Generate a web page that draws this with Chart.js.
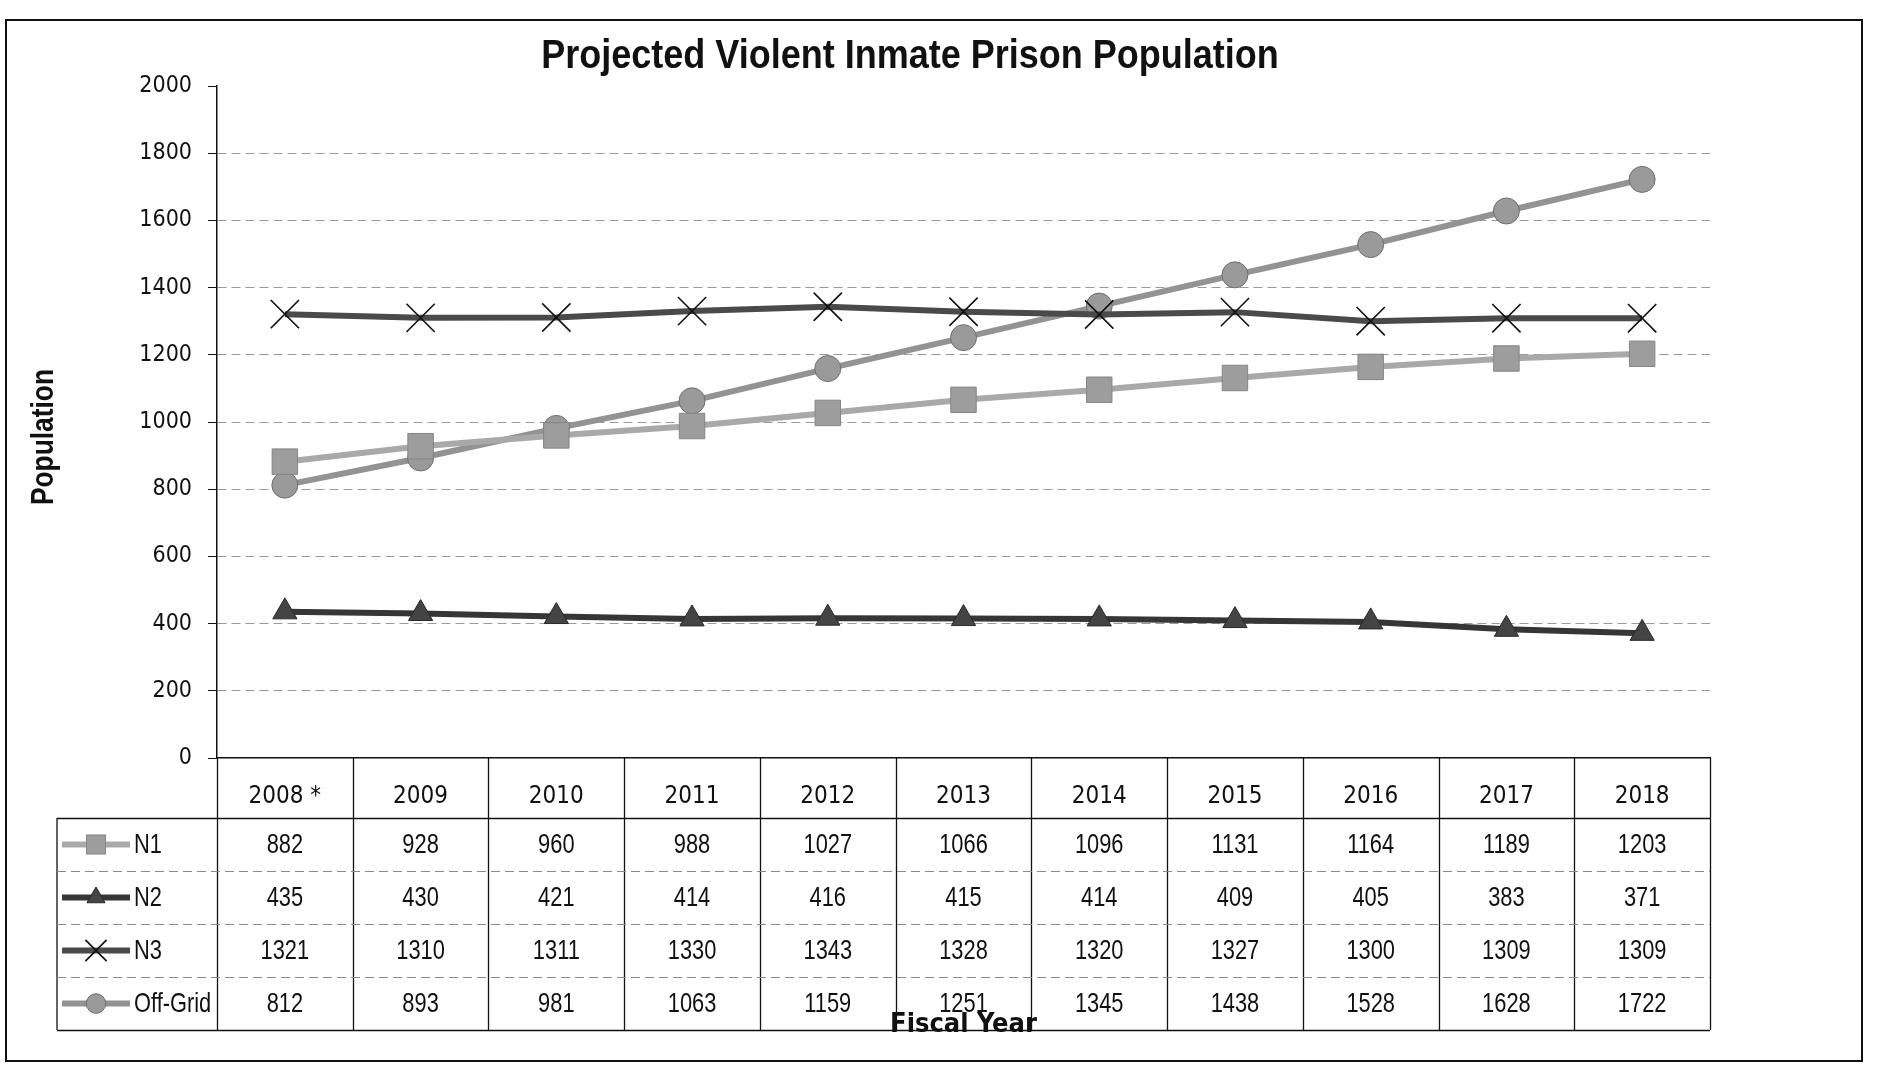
<!DOCTYPE html>
<html>
<head>
<meta charset="utf-8">
<title>Projected Violent Inmate Prison Population</title>
<script src="https://cdn.jsdelivr.net/npm/chart.js@4.4.1/dist/chart.umd.min.js"></script>
<style>
  html, body { margin: 0; padding: 0; background: #fff; }
  #wrap { width: 1877px; height: 1069px; position: relative; }
</style>
</head>
<body>
<div id="wrap"><canvas id="chart"></canvas></div>
<script>
// values
const YEARS = ["2008 *", "2009", "2010", "2011", "2012", "2013", "2014", "2015", "2016", "2017", "2018"];
const N1 = [882, 928, 960, 988, 1027, 1066, 1096, 1131, 1164, 1189, 1203];
const N2 = [435, 430, 421, 414, 416, 415, 414, 409, 405, 383, 371];
const N3 = [1321, 1310, 1311, 1330, 1343, 1328, 1320, 1327, 1300, 1309, 1309];
const OFF_GRID = [812, 893, 981, 1063, 1159, 1251, 1345, 1438, 1528, 1628, 1722];
const SERIES_NAMES = ["N1", "N2", "N3", "Off-Grid"];
const Y_MIN = 0;
const Y_MAX = 2000;
const Y_STEP = 200;

const TITLE = "Projected Violent Inmate Prison Population";
const Y_TITLE = "Population";

const COND = '"DejaVu Sans Condensed", "Liberation Sans Narrow", sans-serif';
const ARIAL = '"Liberation Sans", Arial, sans-serif';
const INK = "#111";

// narrow text: Liberation Sans squeezed horizontally, looks like Arial Narrow
function narrowText(ctx, text, x, y, font, squeeze, align, rotate) {
  ctx.save();
  ctx.font = font;
  ctx.textBaseline = "middle";
  ctx.textAlign = align || "center";
  ctx.translate(x, y);
  if (rotate) ctx.rotate(rotate);
  ctx.scale(squeeze, 1);
  ctx.fillText(text, 0, 0);
  ctx.restore();
}

// scanned frame, titles and the data table under the x axis
const tablePlugin = {
  id: "dataTable",
  beforeDraw(chart) {
    const ctx = chart.ctx;
    ctx.save();
    ctx.fillStyle = "#fff";
    ctx.fillRect(0, 0, chart.width, chart.height);
    ctx.strokeStyle = INK;
    ctx.lineWidth = 2;
    ctx.strokeRect(6, 20, 1856, 1041);
    ctx.restore();
  },
  afterDraw(chart) {
    const ctx = chart.ctx;
    const x = chart.scales.x;
    const area = chart.chartArea;
    const step = x.getPixelForValue(1) - x.getPixelForValue(0);
    const legendLeft = 57;
    const headTop = area.bottom;
    const headBottom = headTop + 60;
    const rowH = 53;
    const tableBottom = headBottom + rowH * chart.data.datasets.length;

    ctx.save();
    ctx.fillStyle = INK;
    narrowText(ctx, TITLE, 910, 57, "bold 40px " + ARIAL, 0.9);
    narrowText(ctx, Y_TITLE, 44, 437, "bold 31px " + ARIAL, 0.85, "center", -Math.PI / 2);

    ctx.strokeStyle = INK;
    ctx.lineWidth = 1.3;
    ctx.beginPath();
    // column separators
    for (let i = 0; i <= YEARS.length; i++) {
      const cx = Math.round(x.getPixelForValue(0) - step / 2 + i * step) + 0.5;
      ctx.moveTo(cx, headTop);
      ctx.lineTo(cx, tableBottom);
    }
    ctx.moveTo(legendLeft, headBottom);
    ctx.lineTo(legendLeft, tableBottom);
    ctx.moveTo(legendLeft, headBottom + 0.5);
    ctx.lineTo(area.right, headBottom + 0.5);
    ctx.moveTo(legendLeft, tableBottom + 0.5);
    ctx.lineTo(area.right, tableBottom + 0.5);
    ctx.stroke();

    // dashed row separators
    ctx.strokeStyle = "#8a8a8a";
    ctx.lineWidth = 1;
    ctx.setLineDash([9, 5]);
    ctx.beginPath();
    for (let r = 1; r < chart.data.datasets.length; r++) {
      const y = headBottom + r * rowH + 0.5;
      ctx.moveTo(legendLeft, y);
      ctx.lineTo(area.right, y);
    }
    ctx.stroke();
    ctx.setLineDash([]);

    // rows: legend sample + values
    chart.data.datasets.forEach((ds, r) => {
      const cy = headBottom + r * rowH + rowH / 2;
      ctx.strokeStyle = ds.borderColor;
      ctx.lineWidth = ds.borderWidth;
      ctx.beginPath();
      ctx.moveTo(62, cy);
      ctx.lineTo(130, cy);
      ctx.stroke();
      ctx.fillStyle = ds.pointBackgroundColor;
      ctx.strokeStyle = ds.pointBorderColor;
      ctx.lineWidth = ds.pointBorderWidth;
      Chart.helpers.drawPoint(ctx, {
        pointStyle: ds.pointStyle,
        rotation: 0,
        radius: ds.pointRadius * 0.75,
        borderWidth: ds.pointBorderWidth
      }, 96, cy);

      ctx.fillStyle = INK;
      narrowText(ctx, ds.label, 134, cy + 1, "28px " + ARIAL, 0.78, "left");
      ds.data.forEach((v, i) => {
        narrowText(ctx, String(v), x.getPixelForValue(i), cy + 1, "28px " + ARIAL, 0.78);
      });
    });
    ctx.restore();
  }
};

new Chart(document.getElementById("chart"), {
  type: "line",
  data: {
    labels: YEARS,
    datasets: [
      {
        label: SERIES_NAMES[0],
        data: N1,
        borderColor: "#a9a9a9",
        borderWidth: 6,
        pointStyle: "rect",
        pointRadius: 18,
        pointBackgroundColor: "#9d9d9d",
        pointBorderColor: "#858585",
        pointBorderWidth: 1
      },
      {
        label: SERIES_NAMES[1],
        data: N2,
        borderColor: "#363636",
        borderWidth: 6,
        pointStyle: "triangle",
        pointRadius: 14,
        pointBackgroundColor: "#444",
        pointBorderColor: "#2a2a2a",
        pointBorderWidth: 1
      },
      {
        label: SERIES_NAMES[2],
        data: N3,
        borderColor: "#4a4a4a",
        borderWidth: 6,
        pointStyle: "crossRot",
        pointRadius: 20,
        pointBackgroundColor: "#111",
        pointBorderColor: "#111",
        pointBorderWidth: 1.6
      },
      {
        label: SERIES_NAMES[3],
        data: OFF_GRID,
        borderColor: "#939393",
        borderWidth: 6,
        pointStyle: "circle",
        pointRadius: 13,
        pointBackgroundColor: "#9a9a9a",
        pointBorderColor: "#6e6e6e",
        pointBorderWidth: 1
      }
    ]
  },
  options: {
    responsive: true,
    maintainAspectRatio: false,
    animation: false,
    layout: { padding: { top: 86, left: 0, right: 167, bottom: 0 } },
    plugins: {
      legend: { display: false },
      tooltip: { enabled: false },
      title: { display: false }
    },
    scales: {
      x: {
        offset: true,
        afterFit: (s) => { s.height = 311; },
        grid: { display: false },
        border: { display: true, color: INK, width: 1.5 },
        ticks: {
          color: INK,
          font: { family: COND, size: 24 },
          padding: 16,
          maxRotation: 0,
          autoSkip: false
        },
        title: {
          display: true,
          text: "Fiscal Year",
          color: INK,
          font: { family: COND, size: 27, weight: "bold" },
          padding: { top: 0, bottom: 28 }
        }
      },
      y: {
        min: Y_MIN,
        max: Y_MAX,
        afterFit: (s) => { s.width = 217; },
        grid: {
          color: (c) => (c.tick && (c.tick.value === Y_MIN || c.tick.value === Y_MAX)) ? "rgba(0,0,0,0)" : "#9a9a9a",
          lineWidth: 1,
          tickColor: INK,
          tickLength: 9
        },
        border: { display: true, color: INK, width: 1.5, dash: [9, 5] },
        ticks: {
          stepSize: Y_STEP,
          color: INK,
          font: { family: COND, size: 23 },
          padding: 16,
          callback: (v) => String(v)
        }
      }
    }
  },
  plugins: [tablePlugin]
});
</script>
</body>
</html>
